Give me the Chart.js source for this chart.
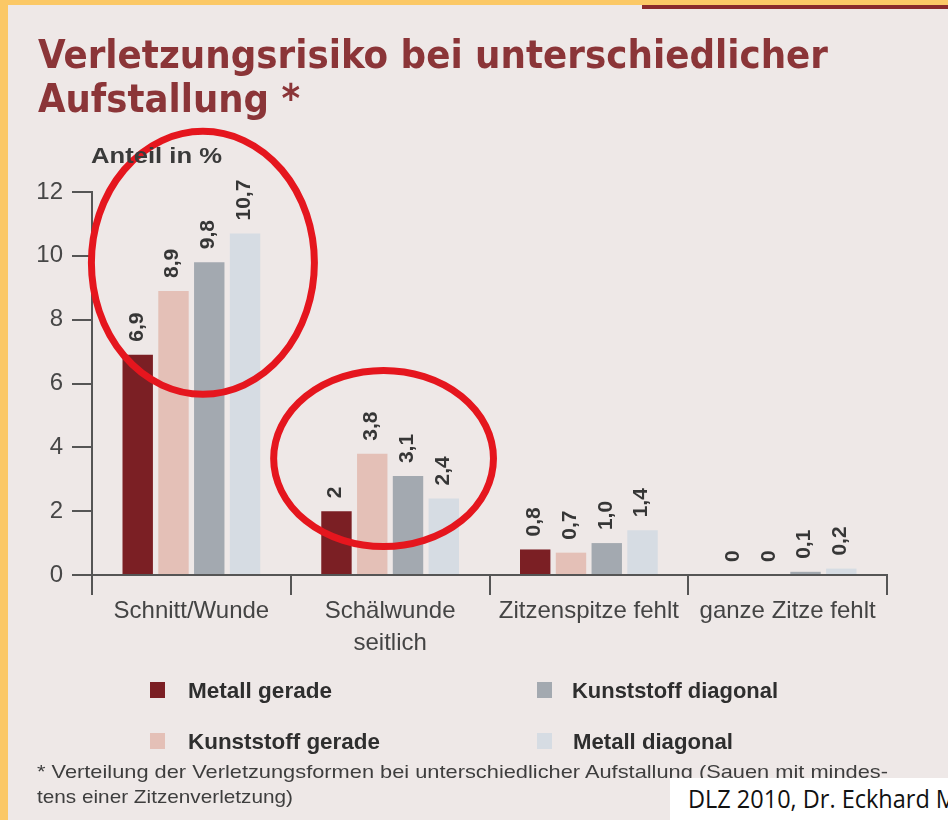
<!DOCTYPE html>
<html>
<head>
<meta charset="utf-8">
<script src="https://cdn.jsdelivr.net/npm/chart.js@4.4.1/dist/chart.umd.min.js"></script>
<style>
  html, body { margin:0; padding:0; }
  body { width:948px; height:820px; overflow:hidden; position:relative; background:#eee8e7; }
  #chart { position:absolute; left:0; top:0; }
  .band-left { position:absolute; left:0; top:0; width:8px; height:820px; background:#fbc866; }
  .band-top { position:absolute; left:0; top:0; width:948px; height:5px; background:#fbc866; }
  .band-red { position:absolute; left:642px; top:5px; width:306px; height:4px; background:#8a2a2c; }
  .t { position:absolute; white-space:nowrap; transform-origin:0 0; line-height:1; }
  .title { font-family:"Liberation Sans Narrow","DejaVu Sans Condensed","Liberation Sans",sans-serif; font-weight:bold; font-size:39px; color:#8b3538; }
  .ylab { font-family:"Liberation Sans Narrow","Liberation Sans",sans-serif; font-weight:bold; font-size:22px; color:#3a3a3a; }
  .leg { font-family:"Liberation Sans Narrow","Liberation Sans",sans-serif; font-weight:bold; font-size:22px; color:#2e2e2e; }
  .sq { position:absolute; width:15px; height:16px; }
  .foot { font-family:"Liberation Sans",sans-serif; font-size:19px; color:#3e3e3e; }
  .src { position:absolute; left:670px; top:778px; width:278px; height:42px; background:#ffffff; overflow:hidden; }
  .srct { position:absolute; left:18px; top:8px; white-space:nowrap; transform-origin:0 0; line-height:1; font-family:"Open Sans","Lato",sans-serif; font-size:25px; color:#111; }
</style>
</head>
<body>
<div class="band-left"></div>
<div class="band-top"></div>
<div class="band-red"></div>
<canvas id="chart" width="948" height="820"></canvas>

<div class="t title" id="title1" style="left:38px; top:35px;">Verletzungsrisiko bei unterschiedlicher</div>
<div class="t title" id="title2" style="left:38px; top:79px;">Aufstallung *</div>
<div class="t ylab" id="ytitle" style="left:91px; top:145px;">Anteil in %</div>

<div id="legend"></div>

<div class="t foot" id="foot1" style="left:37px; top:762px;">* Verteilung der Verletzungsformen bei unterschiedlicher Aufstallung (Sauen mit mindes-</div>
<div class="t foot" id="foot2" style="left:37px; top:787px;">tens einer Zitzenverletzung)</div>

<div class="src"><div class="srct" id="src">DLZ 2010, Dr. Eckhard M</div></div>

<script>
// ---- data ----
const categories = ["Schnitt/Wunde", ["Schälwunde", "seitlich"], "Zitzenspitze fehlt", "ganze Zitze fehlt"];
const seriesNames = ["Metall gerade", "Kunststoff gerade", "Kunststoff diagonal", "Metall diagonal"];
const metallGerade = [6.9, 2, 0.8, 0];
const kunststoffGerade = [8.9, 3.8, 0.7, 0];
const kunststoffDiagonal = [9.8, 3.1, 1.0, 0.1];
const metallDiagonal = [10.7, 2.4, 1.4, 0.2];
const metallGeradeText = ["6,9", "2", "0,8", "0"];
const kunststoffGeradeText = ["8,9", "3,8", "0,7", "0"];
const kunststoffDiagonalText = ["9,8", "3,1", "1,0", "0,1"];
const metallDiagonalText = ["10,7", "2,4", "1,4", "0,2"];
const yTicks = [0, 2, 4, 6, 8, 10, 12];
const seriesColors = ["#7b1f24", "#e4c0b7", "#a3a9b0", "#d6dce3"];
// highlight ellipses (category index, value units)
const highlights = [
  { cat: 0, dx: 0.058, y: 9.78, rx: 0.561, ry: 4.12 },
  { cat: 1, dx: -0.033, y: 3.65, rx: 0.553, ry: 2.76 }
];

const seriesValues = [metallGerade, kunststoffGerade, kunststoffDiagonal, metallDiagonal];
const seriesTexts = [metallGeradeText, kunststoffGeradeText, kunststoffDiagonalText, metallDiagonalText];

const valueLabelPlugin = {
  id: 'valueLabels',
  afterDatasetsDraw(chart) {
    const ctx = chart.ctx;
    chart.data.datasets.forEach((ds, i) => {
      const meta = chart.getDatasetMeta(i);
      meta.data.forEach((bar, j) => {
        ctx.save();
        ctx.translate(bar.x - 1, bar.y - 13);
        ctx.rotate(-Math.PI / 2);
        ctx.font = 'bold 21px "Liberation Sans", Arial, sans-serif';
        ctx.fillStyle = '#363636';
        ctx.textAlign = 'left';
        ctx.textBaseline = 'middle';
        ctx.fillText(ds.valueTexts[j], 0, 0);
        ctx.restore();
      });
    });
  }
};

const ellipsePlugin = {
  id: 'ellipses',
  afterDraw(chart) {
    const xs = chart.scales.x, ys = chart.scales.y;
    const catW = xs.getPixelForValue(1) - xs.getPixelForValue(0);
    const unit = ys.getPixelForValue(0) - ys.getPixelForValue(1);
    const ctx = chart.ctx;
    highlights.forEach(h => {
      ctx.save();
      ctx.beginPath();
      ctx.ellipse(xs.getPixelForValue(h.cat) + h.dx * catW, ys.getPixelForValue(h.y),
                  h.rx * catW, h.ry * unit, 0, 0, Math.PI * 2);
      ctx.strokeStyle = '#e5161e';
      ctx.lineWidth = 7;
      ctx.stroke();
      ctx.restore();
    });
  }
};

new Chart(document.getElementById('chart'), {
  type: 'bar',
  data: {
    labels: categories,
    datasets: seriesNames.map((n, i) => ({
      label: n,
      data: seriesValues[i],
      valueTexts: seriesTexts[i],
      backgroundColor: seriesColors[i],
      borderWidth: 0,
      categoryPercentage: 0.72,
      barPercentage: 0.85
    }))
  },
  options: {
    responsive: false,
    animation: false,
    layout: { padding: { left: 0, right: 61, top: 192, bottom: 0 } },
    plugins: { legend: { display: false }, tooltip: { enabled: false }, title: { display: false } },
    scales: {
      x: {
        grid: { offset: true, drawOnChartArea: false, drawTicks: true, tickLength: 20, color: '#555', lineWidth: 2 },
        border: { display: true, color: '#555', width: 2 },
        ticks: { color: '#444', font: { family: '"Liberation Sans", Arial, sans-serif', size: 24, lineHeight: 1.33 }, padding: 0, maxRotation: 0, autoSkip: false },
        afterFit(s) { s.height = 245; }
      },
      y: {
        min: 0, max: 12,
        afterBuildTicks(s) { s.ticks = yTicks.map(v => ({ value: v })); },
        grid: { drawOnChartArea: false, drawTicks: true, tickLength: 20, color: '#555', lineWidth: 2 },
        border: { display: true, color: '#555', width: 2 },
        ticks: { color: '#474747', font: { family: '"Liberation Sans", Arial, sans-serif', size: 24 }, padding: 9 },
        afterFit(s) { s.width = 92; }
      }
    }
  },
  plugins: [valueLabelPlugin, ellipsePlugin]
});

// legend (2 x 2 grid)
const legendPos = [
  { sx: 150, sy: 682, tx: 188, ty: 680, w: 144 },
  { sx: 150, sy: 733, tx: 188, ty: 731, w: 192 },
  { sx: 537, sy: 682, tx: 572, ty: 680, w: 206 },
  { sx: 537, sy: 733, tx: 573, ty: 731, w: 160 }
];
const legend = document.getElementById('legend');
seriesNames.forEach((n, i) => {
  const p = legendPos[i];
  const sq = document.createElement('div');
  sq.className = 'sq';
  sq.style.left = p.sx + 'px'; sq.style.top = p.sy + 'px'; sq.style.background = seriesColors[i];
  legend.appendChild(sq);
  const t = document.createElement('div');
  t.className = 't leg';
  t.id = 'leg' + i;
  t.style.left = p.tx + 'px'; t.style.top = p.ty + 'px';
  t.textContent = n;
  legend.appendChild(t);
});

function fit(id, w) {
  const el = document.getElementById(id);
  const nat = el.getBoundingClientRect().width;
  el.style.transform = 'scaleX(' + (w / nat) + ')';
}
fit('title1', 790);
fit('title2', 262);
fit('ytitle', 131);
fit('foot1', 851);
fit('foot2', 256);
fit('src', 269);
legendPos.forEach((p, i) => fit('leg' + i, p.w));
</script>
</body>
</html>
